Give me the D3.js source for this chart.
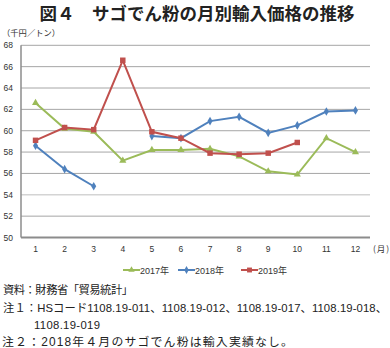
<!DOCTYPE html>
<html><head><meta charset="utf-8">
<script src="https://cdn.jsdelivr.net/npm/d3@7"></script>
<style>
body{margin:0;background:#fff;}
svg{display:block;}
text{font-family:"Liberation Sans","Noto Sans CJK JP",sans-serif;}
</style></head>
<body>
<script>
const months = [1,2,3,4,5,6,7,8,9,10,11,12];
const yTicks = [50,52,54,56,58,60,62,64,66,68];
const seriesNames = ["2017年","2018年","2019年"];
const v2017 = [62.6,60.2,59.9,57.2,58.2,58.2,58.3,57.6,56.2,55.9,59.3,58.0];
const v2018 = [58.6,56.4,54.8,null,59.5,59.3,60.9,61.3,59.8,60.5,61.8,61.9];
const v2019 = [59.1,60.3,60.1,66.6,59.9,59.3,57.9,57.8,57.9,58.9,null,null];
const colors = ["#9BBB59","#4F81BD","#C0504D"];
const notes = ["資料：財務省「貿易統計」",
  "注１：HSコード1108.19-011、1108.19-012、1108.19-017、1108.19-018、",
  "1108.19-019",
  "注２：2018年４月のサゴでん粉は輸入実績なし。"];

const W=390,H=348;
const svg=d3.select("body").append("svg").attr("width",W).attr("height",H);

svg.append("text").attr("x",197).attr("y",20).attr("text-anchor","middle")
  .attr("font-size",17.5).attr("font-weight","bold").attr("fill","#222")
  .style("font-family","'Noto Sans CJK JP',sans-serif")
  .text("図４　サゴでん粉の月別輸入価格の推移");

svg.append("text").attr("x",2).attr("y",36).attr("font-size",8.3).attr("fill","#333")
  .style("font-family","'Noto Sans CJK JP',sans-serif").text("（千円／トン）");

const L=21,R=370,T=45.3,B=237.5;
const x=d3.scaleBand().domain(months).range([L,R]);
const y=d3.scaleLinear().domain([50,68]).range([B,T]);

const g=svg.append("g");
g.selectAll("line.grid").data(yTicks.slice(1)).join("line").attr("class","grid")
  .attr("x1",L).attr("x2",R).attr("y1",d=>y(d)).attr("y2",d=>y(d))
  .attr("stroke",d=>d===54?"#d4d4d4":"#a6a6a6").attr("stroke-width",d=>d===54?1.5:1);

g.append("line").attr("x1",L).attr("x2",L).attr("y1",T).attr("y2",B).attr("stroke","#8c8c8c").attr("stroke-width",1.5);
g.append("line").attr("x1",L).attr("x2",R).attr("y1",B).attr("y2",B).attr("stroke","#8c8c8c").attr("stroke-width",2);

g.selectAll("text.yt").data(yTicks).join("text").attr("class","yt")
  .attr("x",13).attr("y",d=>y(d)+3).attr("text-anchor","end").attr("font-size",8.5).attr("fill","#333").text(d=>d);

g.selectAll("text.xt").data(months).join("text").attr("class","xt")
  .attr("x",d=>x(d)+x.bandwidth()/2).attr("y",252).attr("text-anchor","middle").attr("font-size",8.5).attr("fill","#333").text(d=>d);
svg.append("text").attr("x",373).attr("y",252).attr("font-size",8.5).attr("letter-spacing",1).attr("fill","#333")
  .style("font-family","'Noto Sans CJK JP',sans-serif").text("(月)");

const cx=d=>x(d.m)+x.bandwidth()/2;
const line=d3.line().defined(d=>d.v!=null).x(cx).y(d=>y(d.v));
const all=[v2017,v2018,v2019];
const symTypes=[d3.symbolTriangle,d3.symbolDiamond,d3.symbolSquare];
const symSizes=[22,22,30];
all.forEach((vals,i)=>{
  const data=months.map((m,j)=>({m,v:vals[j]}));
  g.append("path").datum(data).attr("d",line).attr("fill","none").attr("stroke",colors[i]).attr("stroke-width",2);
  g.selectAll("path.s"+i).data(data.filter(d=>d.v!=null)).join("path").attr("class","s"+i)
    .attr("transform",d=>`translate(${cx(d)},${y(d.v)})`)
    .attr("d",d3.symbol().type(symTypes[i]).size(symSizes[i])).attr("fill",colors[i]);
});

// legend
const legX=[123,178,241];
seriesNames.forEach((n,i)=>{
  const lg=svg.append("g").attr("transform",`translate(${legX[i]},270)`);
  lg.append("line").attr("x1",0).attr("x2",17).attr("stroke",colors[i]).attr("stroke-width",2);
  lg.append("path").attr("transform","translate(8.5,0)").attr("d",d3.symbol().type(symTypes[i]).size(symSizes[i]*0.8)).attr("fill",colors[i]);
  lg.append("text").attr("x",17).attr("y",3.5).attr("font-size",9).attr("fill","#333").text(n);
});

const ny=[294,312,329,346], nx=[3,3,34,2], nw=[130,384,66,291], nf=[11.3,11.3,11.3,11.9];
notes.forEach((t,i)=>{
  svg.append("text").attr("x",nx[i]).attr("y",ny[i]).attr("font-size",nf[i]).attr("fill","#222")
    .attr("textLength",nw[i]).attr("lengthAdjust","spacing").text(t);
});
</script>
</body></html>
